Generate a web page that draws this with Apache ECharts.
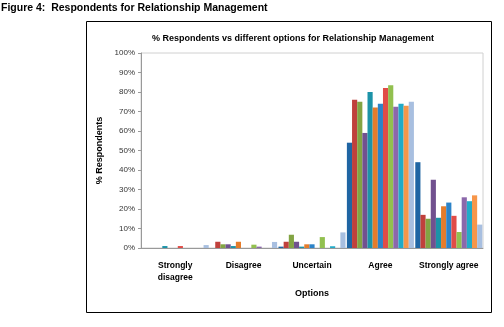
<!DOCTYPE html>
<html>
<head>
<meta charset="utf-8">
<script src="https://cdn.jsdelivr.net/npm/echarts@6/dist/echarts.min.js"></script>
<style>
  html, body { margin: 0; padding: 0; background: #fff; }
  #chart { width: 504px; height: 327px; }
</style>
</head>
<body>
<div id="chart"></div>
<script>
// options on the x axis
const categories = ['Strongly\ndisagree', 'Disagree', 'Uncertain', 'Agree', 'Strongly agree']
const yTicks = [0, 10, 20, 30, 40, 50, 60, 70, 80, 90, 100]

// one array per respondent group (13 series), values in %
const s1 = [0, 0, 0.7, 54, 44]
const s2 = [0, 3.2, 3.2, 76, 17]
const s3 = [0, 1.9, 6.8, 75, 15]
const s4 = [0, 1.9, 3.2, 59, 35]
const s5 = [1, 1, 0.7, 80, 15.5]
const s6 = [0, 3.2, 1.9, 72, 21.4]
const s7 = [0, 0, 1.9, 74, 23.3]
const s8 = [1, 0, 0, 82, 16.5]
const s9 = [0, 1.7, 5.6, 83.5, 8.2]
const s10 = [0, 0.7, 0, 72.5, 26]
const s11 = [0, 0, 0.9, 74, 24]
const s12 = [0, 0, 0, 73, 27]
const s13 = [1.5, 3.1, 8, 75, 12]

const seriesData = [s1, s2, s3, s4, s5, s6, s7, s8, s9, s10, s11, s12, s13]
const colors = [
  '#1f65a3', '#c0403c', '#82a443', '#71518f', '#1c93a8', '#e57c2b',
  '#2c83c8', '#e14c47', '#92c04f', '#8b68ab', '#22abc8', '#f7964a', '#a8bfe0'
]

const chart = echarts.init(document.getElementById('chart'))

const font = 'Liberation Sans, Arial, sans-serif'

chart.setOption({
  animation: false,
  color: colors,
  textStyle: { fontFamily: font },
  graphic: [
    {
      type: 'text',
      left: 1,
      top: 3,
      style: {
        text: 'Figure 4:  Respondents for Relationship Management',
        font: 'bold 10.5px ' + font,
        fill: '#000'
      }
    },
    {
      type: 'rect',
      shape: { x: 86.5, y: 21.5, width: 405, height: 291 },
      style: { fill: 'none', stroke: '#000', lineWidth: 1 }
    }
  ],
  title: {
    text: '% Respondents vs different options for Relationship Management',
    left: 288,
    textAlign: 'center',
    top: 29,
    textStyle: { fontFamily: font, fontSize: 9, fontWeight: 'bold', color: '#000' }
  },
  grid: {
    left: 141,
    right: 21,
    top: 53,
    bottom: 79,
    show: true,
    borderColor: '#d0d0d0',
    borderWidth: 1
  },
  xAxis: {
    type: 'category',
    data: categories,
    name: 'Options',
    nameLocation: 'middle',
    nameGap: 41,
    nameTextStyle: { fontFamily: font, fontSize: 9, fontWeight: 'bold', color: '#000' },
    axisLine: { lineStyle: { color: '#999' } },
    axisTick: { show: false },
    axisLabel: {
      interval: 0,
      fontFamily: font,
      fontSize: 8.5,
      fontWeight: 'bold',
      color: '#000',
      margin: 12,
      lineHeight: 12
    }
  },
  yAxis: {
    type: 'value',
    min: 0,
    max: 100,
    interval: 10,
    name: '% Respondents',
    nameLocation: 'middle',
    nameGap: 33,
    nameRotate: 90,
    nameTextStyle: { fontFamily: font, fontSize: 9, fontWeight: 'bold', color: '#000' },
    splitLine: { show: false },
    axisLine: { show: true, lineStyle: { color: '#999' } },
    axisTick: { show: true, length: 3, lineStyle: { color: '#999' } },
    axisLabel: {
      fontFamily: font,
      fontSize: 8,
      color: '#333',
      margin: 6,
      formatter: v => (yTicks.includes(v) ? v + '%' : '')
    }
  },
  series: seriesData.map((d, i) => ({
    name: 'Group ' + (i + 1),
    type: 'bar',
    data: d,
    barGap: '0%',
    barCategoryGap: '2%'
  }))
})
</script>
</body>
</html>
